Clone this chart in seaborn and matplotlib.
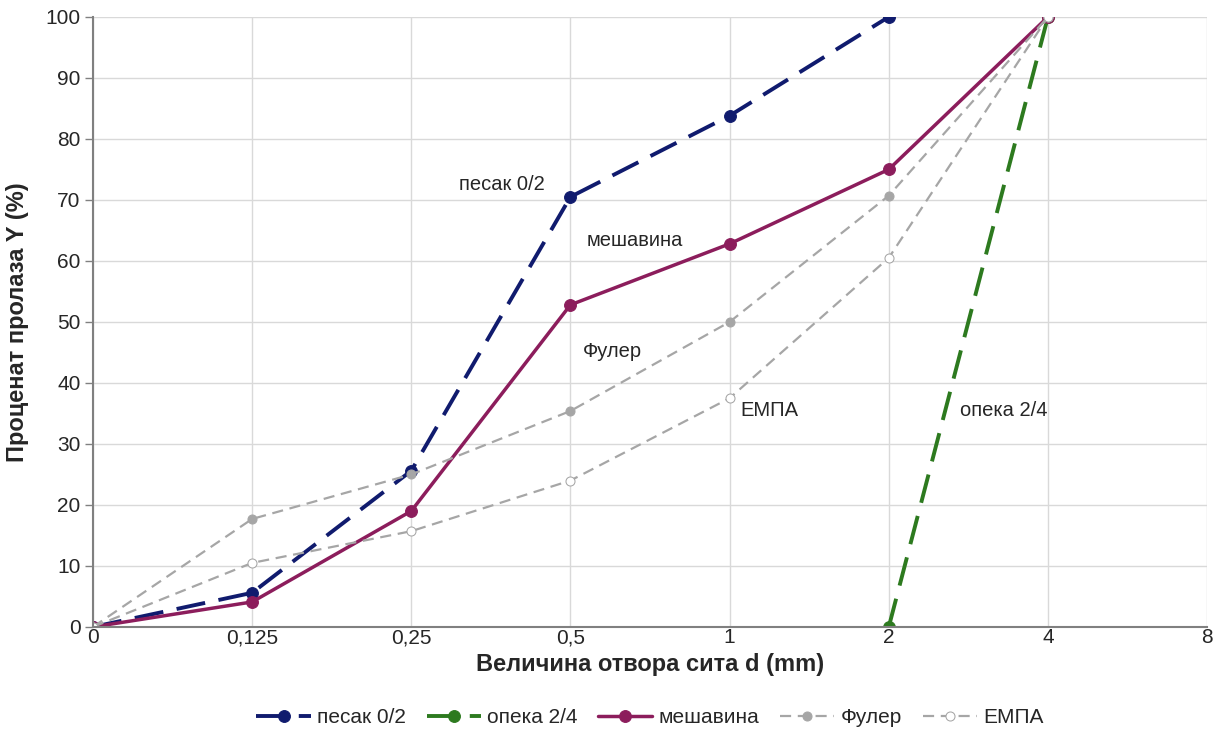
import matplotlib
matplotlib.use("Agg")
import matplotlib.pyplot as plt
import seaborn as sns

sns.set_theme(style="whitegrid")
plt.rcParams["font.family"] = ["Liberation Sans", "DejaVu Sans"]

sieve_labels = ["0", "0,125", "0,25", "0,5", "1", "2", "4", "8"]

pesak = [0, 5.6, 25.6, 70.5, 83.8, 100]
opeka = [0, 100]
opeka_pos = [5, 6]
mesavina = [0, 4.1, 19.0, 52.8, 62.8, 75.0, 100]
fuller = [0, 17.7, 25.0, 35.4, 50.0, 70.7, 100]
empa = [0, 10.5, 15.7, 24.0, 37.5, 60.5, 100]

C_PESAK = "#101b6e"
C_OPEKA = "#2d7a1f"
C_MES = "#8c1d5c"
C_GRAY = "#a6a6a6"

fig = plt.figure(figsize=(12.23, 7.35), dpi=100)
ax = fig.add_axes([0.076, 0.147, 0.911, 0.830])

l = sns.lineplot(x=list(range(len(pesak))), y=pesak, ax=ax, color=C_PESAK, lw=2.8,
                 marker="o", markersize=8.5, markeredgecolor=C_PESAK,
                 label="песак 0/2").lines[-1]
l.set_dashes((7.5, 3.5))
l = sns.lineplot(x=opeka_pos, y=opeka, ax=ax, color=C_OPEKA, lw=2.8,
                 marker="o", markersize=8.5, markeredgecolor=C_OPEKA,
                 label="опека 2/4").lines[-1]
l.set_dashes((7.5, 3.5))
sns.lineplot(x=list(range(len(mesavina))), y=mesavina, ax=ax, color=C_MES, lw=2.5,
             marker="o", markersize=8.5, markeredgecolor=C_MES, label="мешавина")
l = sns.lineplot(x=list(range(len(fuller))), y=fuller, ax=ax, color=C_GRAY, lw=1.6,
                 marker="o", markersize=6.5, markeredgecolor=C_GRAY,
                 label="Фулер").lines[-1]
l.set_dashes((5, 3))
l = sns.lineplot(x=list(range(len(empa))), y=empa, ax=ax, color=C_GRAY, lw=1.6,
                 marker="o", markersize=6.5, markerfacecolor="white",
                 markeredgecolor=C_GRAY, label="ЕМПА").lines[-1]
l.set_dashes((5, 3))

ax.set_xlim(0, len(sieve_labels) - 1)
ax.set_ylim(0, 100)
ax.set_xticks(range(len(sieve_labels)))
ax.set_xticklabels(sieve_labels)
ax.set_yticks(range(0, 101, 10))
ax.tick_params(axis="y", labelsize=15, length=6, width=1, color="#808080", pad=3,
               direction="out", left=True)
ax.tick_params(axis="x", labelsize=15, length=0, pad=1)
ax.grid(True, color="#d9d9d9", lw=1)
for s in ["left", "bottom"]:
    ax.spines[s].set_color("#808080")
    ax.spines[s].set_linewidth(1.5)
for s in ["top", "right"]:
    ax.spines[s].set_visible(False)

ax.set_xlabel("Величина отвора сита d (mm)", fontsize=17, fontweight="bold", labelpad=4)
ax.set_ylabel("Проценат пролаза Y (%)", fontsize=17, fontweight="bold", labelpad=12)

ax.text(2.3, 72.5, "песак 0/2", fontsize=14.5, va="center")
ax.text(3.1, 63.3, "мешавина", fontsize=14.5, va="center")
ax.text(3.08, 45.2, "Фулер", fontsize=14.5, va="center")
ax.text(4.07, 35.5, "ЕМПА", fontsize=14.5, va="center")
ax.text(5.45, 35.5, "опека 2/4", fontsize=14.5, va="center")

ax.legend(loc="center", bbox_to_anchor=(0.5, -0.149), ncol=5, frameon=False,
          fontsize=15, handlelength=2.6, handletextpad=0.3, columnspacing=1.0)

fig.savefig("out.png", dpi=100)
